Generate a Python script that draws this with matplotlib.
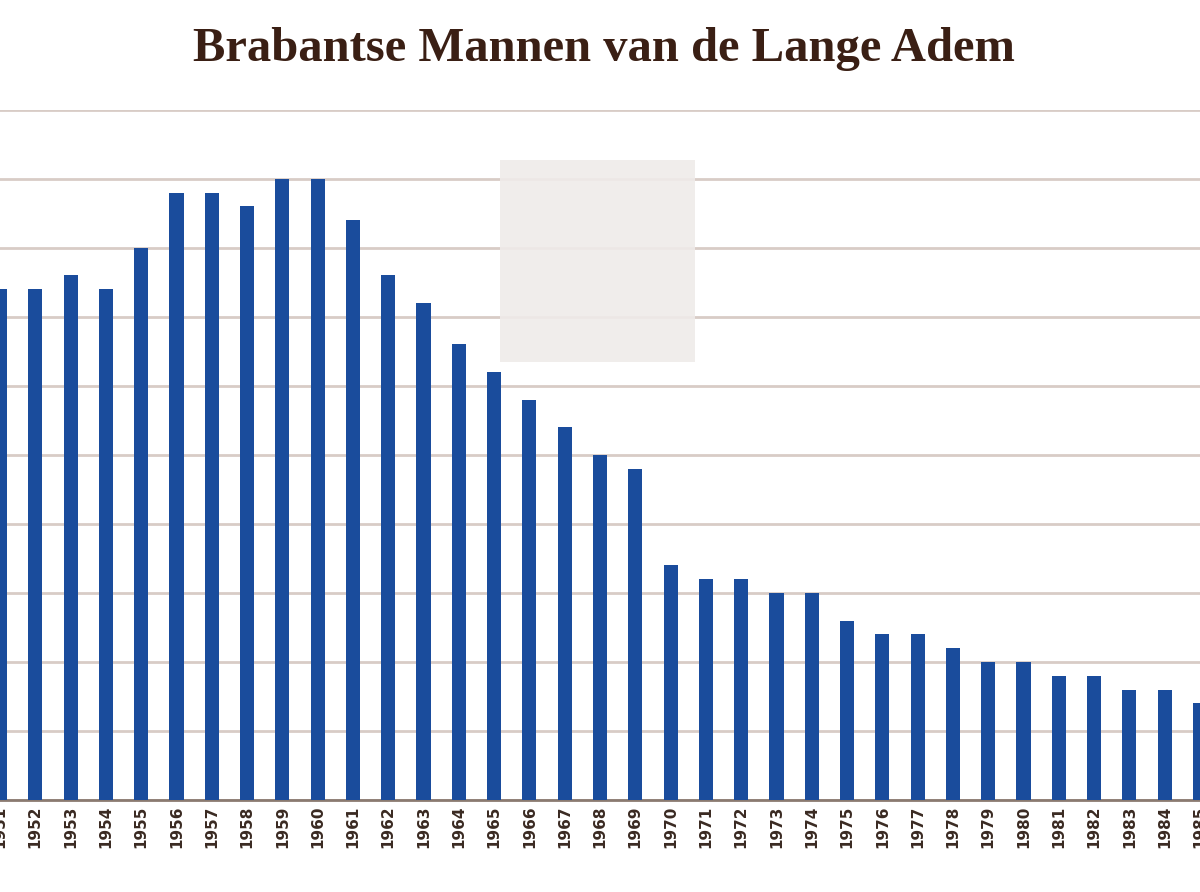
import matplotlib.pyplot as plt
from matplotlib.patches import Rectangle

years = list(range(1951, 1986))
values = [7.41, 7.41, 7.6, 7.41, 8.0, 8.8, 8.8, 8.6, 9.0, 9.0,
          8.4, 7.6, 7.2, 6.6, 6.2, 5.8, 5.4, 5.0, 4.8, 3.4,
          3.2, 3.2, 3.0, 3.0, 2.6, 2.4, 2.4, 2.2, 2.0, 2.0,
          1.8, 1.8, 1.6, 1.6, 1.4]
title = "Brabantse Mannen van de Lange Adem"

fig = plt.figure(figsize=(12, 8.92), dpi=100)
ax = fig.add_axes([0, 0.103, 1, 0.774])

ax.bar(years, values, width=0.4, color="#1a4c9c", zorder=3)
ax.set_xlim(1951.1, 1985.0)
ax.set_ylim(0, 10)
ax.set_yticks(range(0, 11))
ax.yaxis.grid(True, color="#d8ccc6", linewidth=2, zorder=0)
ax.tick_params(axis="y", left=False, labelleft=False)
ax.set_xticks(years)
ax.set_xticklabels([str(y) for y in years], rotation=90, fontsize=11,
                   fontweight="bold", color="#3a2a22")
ax.tick_params(axis="x", length=0, pad=4)
for s in ["top", "left", "right"]:
    ax.spines[s].set_visible(False)
ax.spines["bottom"].set_color("#8a7a70")
ax.spines["bottom"].set_linewidth(2)

# washed-out patch in the source image
fig.patches.append(Rectangle((500 / 1200, 1 - 362 / 892), 195 / 1200, 202 / 892,
                             transform=fig.transFigure, facecolor="#efebe9",
                             edgecolor="none", alpha=0.9, zorder=4))

fig.text(0.503, 0.945, title, ha="center", va="center", fontsize=35,
         fontweight="bold", family="Liberation Serif", color="#3a1f14")

fig.savefig("out.png")
